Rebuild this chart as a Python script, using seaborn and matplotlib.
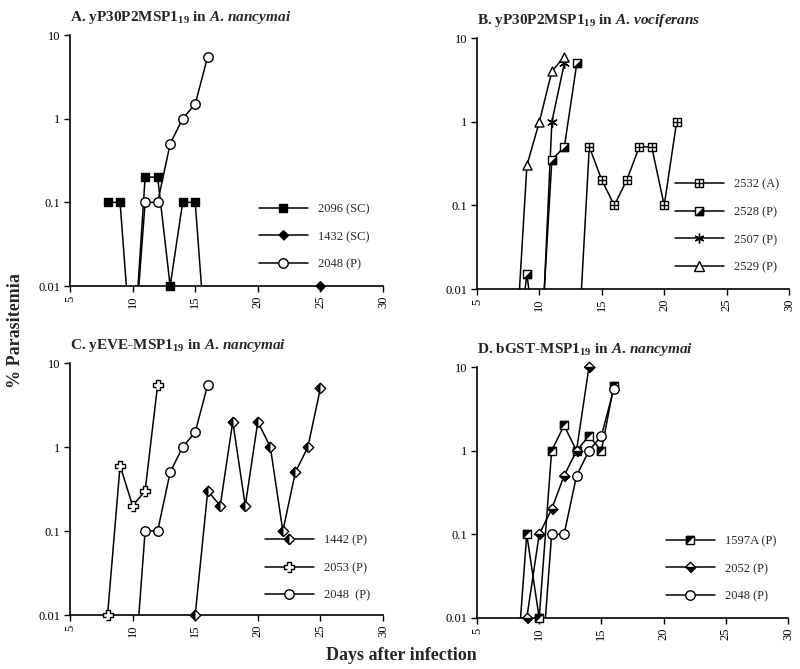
import matplotlib
matplotlib.use("Agg")
import matplotlib.pyplot as plt
from matplotlib.lines import Line2D
from matplotlib.ticker import FixedLocator, FixedFormatter, NullLocator
import numpy as np
import seaborn as sns

# ---------------- data ----------------
x_ticks = [5, 10, 15, 20, 25, 30]
y_ticks = [0.01, 0.1, 1, 10]
y_tick_labels = ["0.01", "0.1", "1", "10"]

# Panel A
a_2096_days = [8, 9, 10, 11, 12, 13, 14, 15, 16]
a_2096_vals = [0.1, 0.1, 0.001, 0.2, 0.2, 0.01, 0.1, 0.1, 0.001]
a_1432_days = [25]
a_1432_vals = [0.01]
a_2048_days = [10, 11, 12, 13, 14, 15, 16]
a_2048_vals = [0.001, 0.1, 0.1, 0.5, 1.0, 1.5, 5.5]

# Panel B
b_2532_days = [13, 14, 15, 16, 17, 18, 19, 20, 21]
b_2532_vals = [0.001, 0.5, 0.2, 0.1, 0.2, 0.5, 0.5, 0.1, 1.0]
b_2528_days = [8, 9, 10, 11, 12, 13]
b_2528_vals = [0.001, 0.015, 0.001, 0.35, 0.5, 5.0]
b_2507_days = [10, 11, 12]
b_2507_vals = [0.0005, 1.0, 5.0]
b_2529_days = [8, 9, 10, 11, 12]
b_2529_vals = [0.001, 0.3, 1.0, 4.0, 6.0]

# Panel C
c_1442_days = [15, 16, 17, 18, 19, 20, 21, 22, 23, 24, 25]
c_1442_vals = [0.01, 0.3, 0.2, 2.0, 0.2, 2.0, 1.0, 0.1, 0.5, 1.0, 5.0]
c_2053_days = [8, 9, 10, 11, 12]
c_2053_vals = [0.01, 0.6, 0.2, 0.3, 5.5]
c_2048_days = [10, 11, 12, 13, 14, 15, 16]
c_2048_vals = [0.001, 0.1, 0.1, 0.5, 1.0, 1.5, 5.5]

# Panel D
d_1597_days = [8, 9, 10, 11, 12, 13, 14, 15, 16]
d_1597_vals = [0.001, 0.1, 0.01, 1.0, 2.0, 1.0, 1.5, 1.0, 6.0]
d_2052_days = [9, 10, 11, 12, 13, 14]
d_2052_vals = [0.01, 0.1, 0.2, 0.5, 1.0, 10.0]
d_2048_days = [10, 11, 12, 13, 14, 15, 16]
d_2048_vals = [0.001, 0.1, 0.1, 0.5, 1.0, 1.5, 5.5]

titles = [
    r"A. yP30P2MSP1$_{\mathbf{19}}$ in $\mathit{A.\,nancymai}$",
    r"B. yP30P2MSP1$_{\mathbf{19}}$ in $\mathit{A.\,vociferans}$",
    r"C. yEVE-MSP1$_{\mathbf{19}}$ in $\mathit{A.\,nancymai}$",
    r"D. bGST-MSP1$_{\mathbf{19}}$ in $\mathit{A.\,nancymai}$",
]

# ---------------- style ----------------
sns.set_style("ticks")
plt.rcParams["font.family"] = ["Liberation Serif", "DejaVu Serif"]
plt.rcParams["mathtext.fontset"] = "custom"
plt.rcParams["mathtext.rm"] = "Liberation Serif:bold"
plt.rcParams["mathtext.bf"] = "Liberation Serif:bold"
plt.rcParams["mathtext.it"] = "Liberation Serif:italic:bold"

# marker shapes (vertex lists)
TRI_LR = [(-1, -1), (1, -1), (1, 1)]       # lower-right half of square
TRI_UL = [(-1, -1), (-1, 1), (1, 1)]       # upper-left half of square
DIA = [(-1, 0), (0, 1), (1, 0), (0, -1)]
DIA_BOT = [(-1, 0), (1, 0), (0, -1)]
DIA_LEFT = [(0, 1), (-1, 0), (0, -1)]
w = 0.38
CROSS = [(-w, -1), (w, -1), (w, -w), (1, -w), (1, w), (w, w), (w, 1),
         (-w, 1), (-w, w), (-1, w), (-1, -w), (-w, -w)]

# layer spec: (marker, size_pt, face, edge)
STY = {
    "sq_black": [("s", 6.0, "black", "black")],
    "dia_black": [(DIA, 7.0, "black", "black")],
    "circle": [("o", 6.8, "white", "black")],
    "sq_plus": [("s", 6.0, "white", "black"), ("+", 6.0, "black", "black")],
    "sq_half": [("s", 6.0, "white", "black"), (TRI_LR, 6.0, "black", "black")],
    "sq_half_ul": [("s", 6.0, "white", "black"), (TRI_UL, 6.0, "black", "black")],
    "asterisk": [((6, 2, 0), 7.0, "black", "black")],
    "triangle": [("^", 6.5, "white", "black")],
    "dia_left": [(DIA, 7.5, "white", "black"), (DIA_LEFT, 7.5, "black", "black")],
    "dia_bot": [(DIA, 7.5, "white", "black"), (DIA_BOT, 7.5, "black", "black")],
    "cross": [(CROSS, 7.5, "white", "black")],
}

panels = [
    dict(series=[("2096 (SC)", a_2096_days, a_2096_vals, "sq_black"),
                 ("1432 (SC)", a_1432_days, a_1432_vals, "dia_black"),
                 ("2048 (P)", a_2048_days, a_2048_vals, "circle")],
         rect=[70, 35, 383, 286], leg=(0.604, 0.33)),
    dict(series=[("2532 (A)", b_2532_days, b_2532_vals, "sq_plus"),
                 ("2528 (P)", b_2528_days, b_2528_vals, "sq_half"),
                 ("2507 (P)", b_2507_days, b_2507_vals, "asterisk"),
                 ("2529 (P)", b_2529_days, b_2529_vals, "triangle")],
         rect=[477, 38, 789, 289], leg=(0.635, 0.44)),
    dict(series=[("1442 (P)", c_1442_days, c_1442_vals, "dia_left"),
                 ("2053 (P)", c_2053_days, c_2053_vals, "cross"),
                 ("2048  (P)", c_2048_days, c_2048_vals, "circle")],
         rect=[70, 363, 383, 615], leg=(0.623, 0.32)),
    dict(series=[("1597A (P)", d_1597_days, d_1597_vals, "sq_half_ul"),
                 ("2052 (P)", d_2052_days, d_2052_vals, "dia_bot"),
                 ("2048 (P)", d_2048_days, d_2048_vals, "circle")],
         rect=[477, 367, 788, 618], leg=(0.608, 0.33)),
]

W, H = 800, 669
fig = plt.figure(figsize=(W / 100, H / 100), dpi=100)

for p, title in zip(panels, titles):
    x0, y0, x1, y1 = p["rect"]
    ax = fig.add_axes([x0 / W, 1 - y1 / H, (x1 - x0) / W, (y1 - y0) / H])
    ax.set_yscale("log")
    handles, labels = [], []
    for label, days, vals, sty in p["series"]:
        days = np.asarray(days, dtype=float)
        vals = np.asarray(vals, dtype=float)
        if len(days) > 1:
            sns.lineplot(x=days, y=vals, ax=ax, color="black", lw=1.1,
                         estimator=None, sort=False, zorder=2)
        vis = np.where(vals >= 0.01, vals, np.nan)
        parts = []
        for mk, ms, fc, ec in STY[sty]:
            sns.scatterplot(x=days, y=vis, ax=ax, marker=mk, s=ms ** 2,
                            color=fc, edgecolor=ec, linewidth=1.0,
                            clip_on=False, zorder=4)
            parts.append(Line2D([], [], color="black", lw=1.1, marker=mk,
                                markersize=ms, markerfacecolor=fc,
                                markeredgecolor=ec, markeredgewidth=1.0,
                                linestyle="-" if not parts else "none"))
        handles.append(tuple(parts) if len(parts) > 1 else parts[0])
        labels.append(label)

    ax.set_xlim(5, 30)
    ax.set_ylim(0.01, 10)
    ax.xaxis.set_major_locator(FixedLocator(x_ticks))
    ax.yaxis.set_major_locator(FixedLocator(y_ticks))
    ax.yaxis.set_major_formatter(FixedFormatter(y_tick_labels))
    ax.yaxis.set_minor_locator(NullLocator())
    ax.set_xticklabels([str(t) for t in x_ticks], rotation=90)
    ax.tick_params(axis="both", direction="out", length=4, width=1.0,
                   labelsize=9, color="black", labelcolor="black", pad=3)
    for s in ["top", "right"]:
        ax.spines[s].set_visible(False)
    for s in ["left", "bottom"]:
        ax.spines[s].set_linewidth(1.2)
        ax.spines[s].set_color("black")
    ax.set_xlabel("")
    ax.set_ylabel("")
    ax.set_title(title, loc="left", fontsize=11, fontweight="bold", pad=10)

    ax.legend(handles, labels, loc="upper left", bbox_to_anchor=p["leg"],
              frameon=False, fontsize=9, handlelength=3.9, handletextpad=0.8,
              labelspacing=1.25, borderpad=0, borderaxespad=0)

fig.text(0.019, 1 - 331 / H, "% Parasitemia", rotation=90, ha="center",
         va="center", fontsize=13, fontweight="bold")
fig.text(401 / W, 1 - 655 / H, "Days after infection", ha="center",
         va="center", fontsize=13, fontweight="bold")

fig.savefig("out.png", dpi=100)
